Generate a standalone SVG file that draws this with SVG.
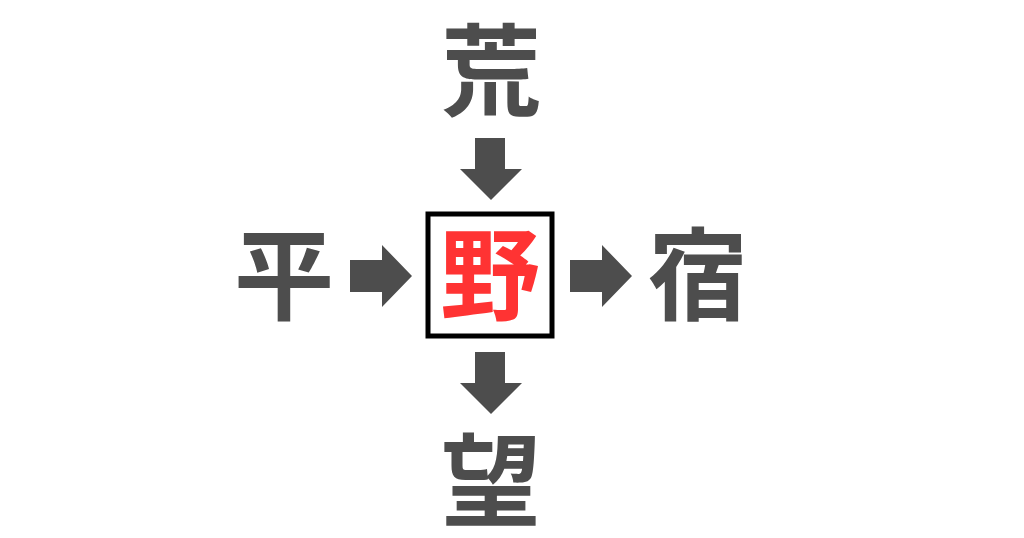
<svg xmlns="http://www.w3.org/2000/svg" width="1024" height="538" viewBox="0 0 1024 538">
<style>
.ch{font-family:"Noto Sans CJK JP","Noto Sans CJK SC",sans-serif;font-weight:bold;font-size:100px;text-anchor:middle;fill:#4d4d4d}
.red{fill:#ff3333}
.arr{fill:#4d4d4d}
</style>
<rect width="1024" height="538" fill="#ffffff"/>
<g id="top"><text class="ch" x="491" y="108">荒</text></g>
<g id="left"><text class="ch" x="284" y="312">平</text></g>
<g id="right"><text class="ch" x="698" y="312">宿</text></g>
<g id="bottom"><text class="ch" x="491" y="518">望</text></g>
<g id="center">
<rect x="428" y="214" width="124" height="122" fill="#ffffff" stroke="#000000" stroke-width="5"/>
<text class="ch red" x="490" y="312">野</text>
</g>
<g id="connectors">
<polygon class="arr" points="475,138 505,138 505,169 522,169 491,200 460,169 475,169"/>
<polygon class="arr" points="350,260 382,260 382,245 412,276 382,307 382,292 350,292"/>
<polygon class="arr" points="570,260 602,260 602,245 632,276 602,307 602,292 570,292"/>
<polygon class="arr" points="475,352 505,352 505,383 522,383 491,414 460,383 475,383"/>
</g>
</svg>
